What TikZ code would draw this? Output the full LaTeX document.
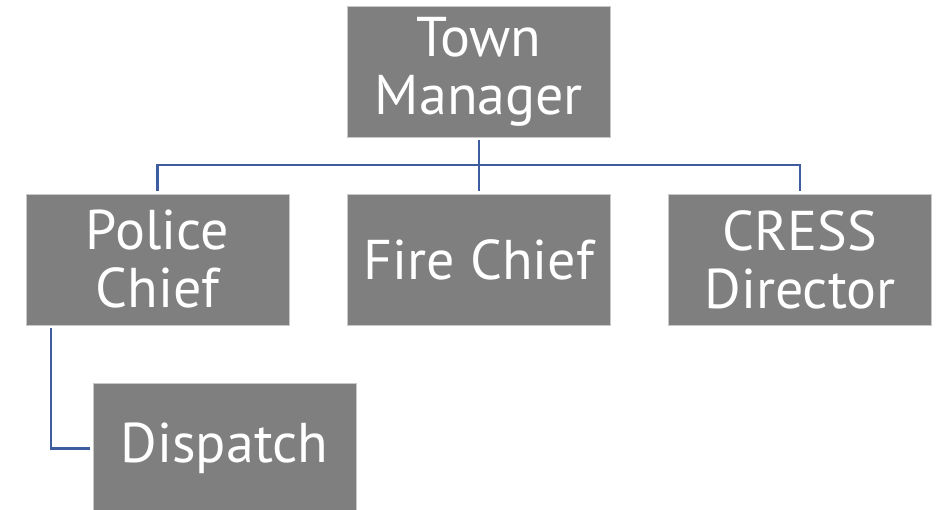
\documentclass[tikz,border=0pt]{standalone}
\usepackage{fontspec}
\setmainfont{PT Sans}
\definecolor{boxgray}{RGB}{127,127,127}
\definecolor{boxedge}{RGB}{200,200,200}
\definecolor{linkblue}{RGB}{62,93,160}
\begin{document}
\begin{tikzpicture}[x=1pt, y=-1pt,
    post/.style={fill=boxgray, draw=boxedge, line width=0.8pt, text=white,
      minimum width=263pt, minimum height=131pt, inner sep=0pt, align=center,
      font=\fontsize{56}{58}\selectfont},
    link/.style={draw=linkblue, line width=2.2pt, shorten >=3pt, shorten <=3pt}]
  \useasboundingbox (0,0) rectangle (939,510);

  \node[post] (tm) at (479,71.5) {Town\\Manager};
  \node[post] (pc) at (157.5,259.5) {Police\\Chief};
  \node[post] (fc) at (479,259.5) {Fire Chief};
  \node[post] (cd) at (800,259.5) {CRESS\\Director};
  \node[post] (dp) at (224.5,448.5) {Dispatch};

  \coordinate (bus) at (479,165);
  \draw[link] (tm) -- (fc);
  \draw[link] (pc.north) |- (bus) -| (cd.north);
  \draw[link] ([xshift=25pt]pc.south west) |- (dp.west);
\end{tikzpicture}
\end{document}
